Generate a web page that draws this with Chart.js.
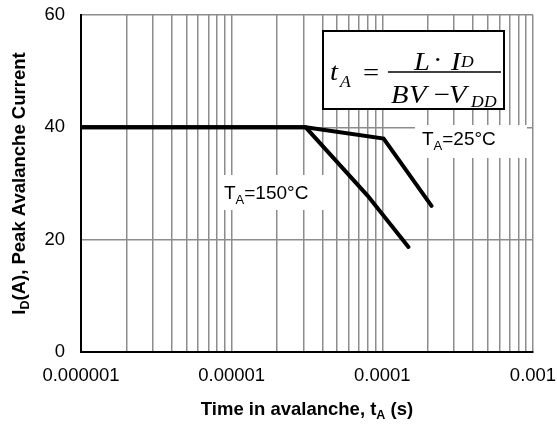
<!DOCTYPE html>
<html>
<head>
<meta charset="utf-8">
<script src="https://cdn.jsdelivr.net/npm/chart.js@4.4.1/dist/chart.umd.min.js"></script>
<style>
html,body{margin:0;padding:0;background:#fff;}
canvas{display:block;}
</style>
</head>
<body>
<canvas id="c" width="557" height="428"></canvas>
<script>
// ---- data ----
const decades = [1e-6, 1e-5, 1e-4, 1e-3];
const xTickLabels = ['0.000001', '0.00001', '0.0001', '0.001'];
const mantissas = [1, 2, 3, 4, 5, 6, 7, 8, 9];
const yTicks = [0, 20, 40, 60];

const t25 = [1e-6, 3.1e-5, 1.02e-4, 2.12e-4];
const i25 = [40, 40, 38, 26];
const t150 = [1e-6, 3.1e-5, 8.0e-5, 1.49e-4];
const i150 = [40, 40, 27.8, 18.7];

const label25 = ['T', 'A', '=25°C'];
const label150 = ['T', 'A', '=150°C'];
const xTitle = ['Time in avalanche, t', 'A', ' (s)'];
const yTitle = ['I', 'D', '(A), Peak Avalanche Current'];

// ---- tick list ----
const xTickValues = [];
decades.forEach((d, k) => {
  if (k === decades.length - 1) { xTickValues.push(d); return; }
  mantissas.forEach(m => xTickValues.push(m * d));
});

const GRID = '#8c8c8c';
const SANS = '"Liberation Sans", Arial, sans-serif';
const SERIF = '"Liberation Serif", "Times New Roman", serif';

function drawSubText(ctx, parts, x, y, size, subSize, subDrop, weight) {
  ctx.textAlign = 'left';
  ctx.textBaseline = 'alphabetic';
  let cx = x;
  parts.forEach((p, i) => {
    const isSub = i === 1;
    ctx.font = (weight || '') + ' ' + (isSub ? subSize : size) + 'px ' + SANS;
    ctx.fillText(p, cx, isSub ? y + subDrop : y);
    cx += ctx.measureText(p).width;
  });
  return cx - x;
}
function measureSub(ctx, parts, size, subSize, weight) {
  let w = 0;
  parts.forEach((p, i) => {
    ctx.font = (weight || '') + ' ' + (i === 1 ? subSize : size) + 'px ' + SANS;
    w += ctx.measureText(p).width;
  });
  return w;
}

// formula glyphs: [text, x, baseline, size, italic]
const formulaGlyphs = [
  ['t', 330, 80, 26, true],
  ['A', 340, 86.5, 16, true],
  ['=', 363, 81, 26, false],
  ['L', 414, 69.5, 26, true],
  ['\u00B7', 433, 67.5, 26, false],
  ['I', 451, 69.5, 26, true],
  ['D', 461, 67, 16, true],
  ['B', 391, 103, 26, true],
  ['V', 409, 103, 26, true],
  ['\u2212', 434, 103, 26, false],
  ['V', 449, 103, 26, true],
  ['D', 471, 107.3, 16, true],
  ['D', 484, 107.3, 16, true]
];
const FORMULA_STRETCH = 1.1;

const annot = {
  id: 'annot',
  beforeDatasetsDraw(chart) {
    const ctx = chart.ctx;
    const a = chart.chartArea;
    ctx.save();
    // label boxes
    ctx.fillStyle = '#fff';
    ctx.fillRect(a.left + 138, 175, 114, 35);
    ctx.fillRect(a.left + 334, 125, 112, 33);
    ctx.fillStyle = '#000';
    drawSubText(ctx, label150, a.left + 143, 198.5, 19, 13, 5, '');
    drawSubText(ctx, label25, a.left + 341, 144.5, 19, 13, 5, '');

    // formula box
    ctx.fillStyle = '#fff';
    ctx.fillRect(323, 31, 181, 78);
    ctx.strokeStyle = '#000';
    ctx.lineWidth = 2;
    ctx.strokeRect(323, 31, 181, 78);
    ctx.fillStyle = '#000';
    ctx.textAlign = 'left';
    ctx.textBaseline = 'alphabetic';
    formulaGlyphs.forEach(g => {
      ctx.save();
      ctx.translate(g[1], g[2]);
      ctx.scale(FORMULA_STRETCH, 1);
      ctx.font = (g[4] ? 'italic ' : '') + g[3] + 'px ' + SERIF;
      ctx.fillText(g[0], 0, 0);
      ctx.restore();
    });
    ctx.lineWidth = 1.5;
    ctx.beginPath();
    ctx.moveTo(388, 72);
    ctx.lineTo(501, 72);
    ctx.stroke();
    ctx.restore();
  },
  afterDraw(chart) {
    const ctx = chart.ctx;
    const a = chart.chartArea;
    ctx.save();
    ctx.fillStyle = '#000';
    // x title
    const wx = measureSub(ctx, xTitle, 18.5, 12.5, 'bold');
    drawSubText(ctx, xTitle, (a.left + a.right) / 2 - wx / 2, 415, 18.5, 12.5, 4, 'bold');
    // y title
    const wy = measureSub(ctx, yTitle, 18.5, 12.5, 'bold');
    ctx.translate(25, (a.top + a.bottom) / 2);
    ctx.rotate(-Math.PI / 2);
    drawSubText(ctx, yTitle, -wy / 2, 0, 18.5, 12.5, 4, 'bold');
    ctx.restore();
  }
};

new Chart(document.getElementById('c'), {
  type: 'scatter',
  data: {
    datasets: [
      {
        label: 'TA=25°C',
        data: t25.map((t, i) => ({ x: t, y: i25[i] })),
        showLine: true,
        borderColor: '#000',
        backgroundColor: '#000',
        borderWidth: 4,
        pointRadius: 0,
        tension: 0,
        borderCapStyle: 'round',
        borderJoinStyle: 'miter'
      },
      {
        label: 'TA=150°C',
        data: t150.map((t, i) => ({ x: t, y: i150[i] })),
        showLine: true,
        borderColor: '#000',
        backgroundColor: '#000',
        borderWidth: 4,
        pointRadius: 0,
        tension: 0,
        borderCapStyle: 'round',
        borderJoinStyle: 'miter'
      }
    ]
  },
  options: {
    responsive: false,
    animation: false,
    devicePixelRatio: 1,
    layout: { padding: { left: 0, top: 15, right: 24, bottom: 0 } },
    plugins: {
      legend: { display: false },
      tooltip: { enabled: false },
      title: { display: false }
    },
    scales: {
      x: {
        type: 'logarithmic',
        min: 1e-6,
        max: 1e-3,
        afterBuildTicks(scale) {
          scale.ticks = xTickValues.map(v => ({ value: v }));
        },
        afterFit(scale) {
          scale.height = 76;
          scale.paddingLeft = 0;
          scale.paddingRight = 0;
        },
        ticks: {
          autoSkip: false,
          maxRotation: 0,
          minRotation: 0,
          padding: 13,
          color: '#000',
          font: { family: SANS, size: 18.5 },
          callback(value) {
            const k = decades.indexOf(value);
            return k >= 0 ? xTickLabels[k] : '';
          }
        },
        grid: { color: GRID, lineWidth: 1.5, drawTicks: false },
        border: { color: '#000', width: 2 }
      },
      y: {
        type: 'linear',
        min: 0,
        max: 60,
        afterBuildTicks(scale) {
          scale.ticks = yTicks.map(v => ({ value: v }));
        },
        afterFit(scale) {
          scale.width = 81;
          scale.paddingTop = 0;
          scale.paddingBottom = 0;
        },
        ticks: {
          padding: 16,
          color: '#000',
          font: { family: SANS, size: 18.5 }
        },
        grid: { color: GRID, lineWidth: 1.5, drawTicks: false },
        border: { color: '#000', width: 2 }
      }
    }
  },
  plugins: [annot]
});
</script>
</body>
</html>
